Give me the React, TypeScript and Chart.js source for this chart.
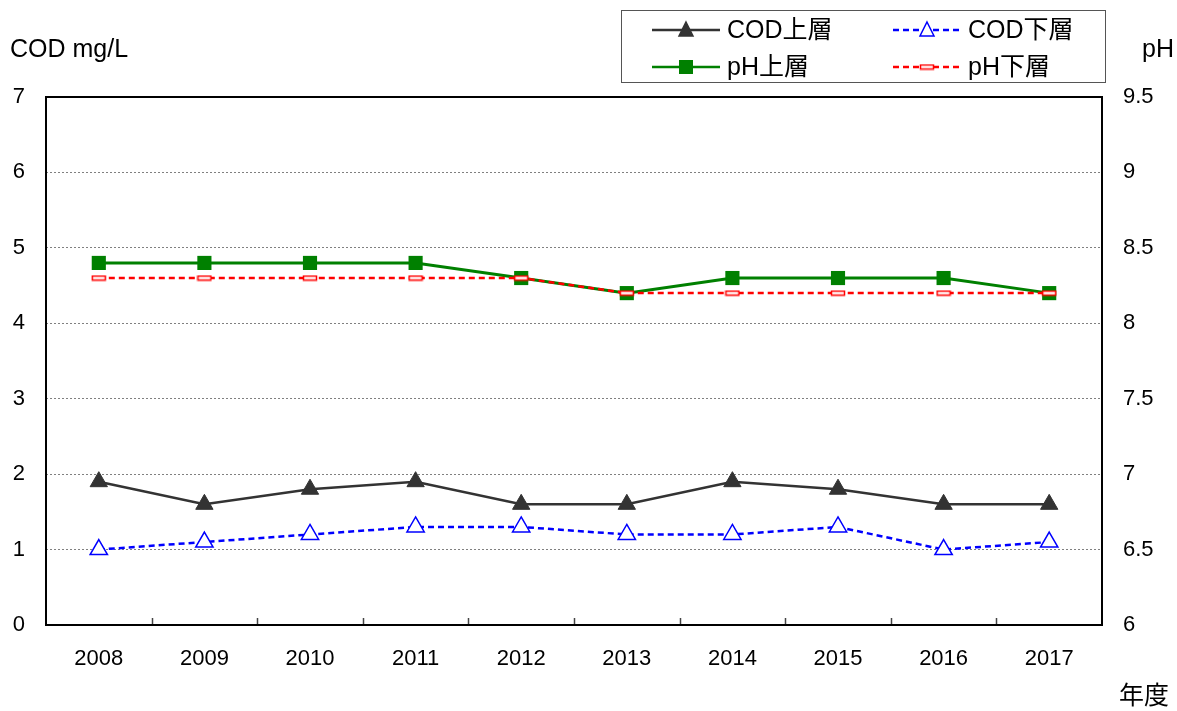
import React, { useEffect, useRef } from "react";
import { Chart, registerables } from "chart.js";

Chart.register(...registerables);

const years = ["2008", "2009", "2010", "2011", "2012", "2013", "2014", "2015", "2016", "2017"];
const codUpper = [1.9, 1.6, 1.8, 1.9, 1.6, 1.6, 1.9, 1.8, 1.6, 1.6];
const codLower = [1.0, 1.1, 1.2, 1.3, 1.3, 1.2, 1.2, 1.3, 1.0, 1.1];
const phUpper = [8.4, 8.4, 8.4, 8.4, 8.3, 8.2, 8.3, 8.3, 8.3, 8.2];
const phLower = [8.3, 8.3, 8.3, 8.3, 8.3, 8.2, 8.2, 8.2, 8.2, 8.2];
const seriesNames = ["COD上層", "COD下層", "pH上層", "pH下層"];

const FONT = "'Liberation Sans', Arial, 'Noto Sans CJK JP', sans-serif";

function makeFlatRect(): HTMLCanvasElement {
  const c = document.createElement("canvas");
  c.width = 16;
  c.height = 7;
  const g = c.getContext("2d")!;
  g.fillStyle = "#ffffff";
  g.fillRect(1, 1, 14, 5);
  g.strokeStyle = "#ff0000";
  g.lineWidth = 1.5;
  g.strokeRect(1.5, 1.5, 13, 4);
  return c;
}

export default function App() {
  const ref = useRef<HTMLCanvasElement>(null);
  useEffect(() => {
    const flat = makeFlatRect();
    const black = "#333333";
    const blue = "#0000ff";
    const green = "#008000";
    const red = "#ff0000";

    const decor = {
      id: "decor",
      afterDraw(chart: any) {
        const ctx = chart.ctx;
        const a = chart.chartArea;
        const xs = chart.scales.x;
        ctx.save();
        // inward tick marks on x axis
        ctx.strokeStyle = "#444";
        ctx.lineWidth = 1.5;
        for (let i = 1; i < years.length; i++) {
          const px = Math.round((xs.getPixelForValue(i - 1) + xs.getPixelForValue(i)) / 2) + 0.5;
          ctx.beginPath();
          ctx.moveTo(px, a.bottom);
          ctx.lineTo(px, a.bottom - 7);
          ctx.stroke();
        }
        // plot border
        ctx.strokeStyle = "#000";
        ctx.lineWidth = 2;
        ctx.strokeRect(a.left, a.top, a.right - a.left, a.bottom - a.top);

        // axis titles
        ctx.fillStyle = "#000";
        ctx.font = "25px " + FONT;
        ctx.textBaseline = "middle";
        ctx.textAlign = "left";
        ctx.fillText("COD mg/L", 10, 50);
        ctx.fillText("pH", 1142, 50);
        ctx.fillText("年度", 1119, 697);

        // legend
        ctx.fillStyle = "#fff";
        ctx.fillRect(621, 10, 485, 72);
        ctx.strokeStyle = "#555";
        ctx.lineWidth = 1;
        ctx.strokeRect(621.5, 10.5, 484, 72);

        const items = [
          { x: 652, y: 30, color: black, dash: [] as number[], marker: "triFill", label: seriesNames[0] },
          { x: 893, y: 30, color: blue, dash: [6, 4], marker: "triOpen", label: seriesNames[1] },
          { x: 652, y: 67, color: green, dash: [] as number[], marker: "square", label: seriesNames[2] },
          { x: 893, y: 67, color: red, dash: [6, 4], marker: "flat", label: seriesNames[3] },
        ];
        for (const it of items) {
          ctx.strokeStyle = it.color;
          ctx.lineWidth = 2.5;
          ctx.setLineDash(it.dash);
          ctx.beginPath();
          ctx.moveTo(it.x, it.y);
          ctx.lineTo(it.x + 68, it.y);
          ctx.stroke();
          ctx.setLineDash([]);
          const cx = it.x + 34;
          const cy = it.y;
          if (it.marker === "triFill" || it.marker === "triOpen") {
            ctx.beginPath();
            ctx.moveTo(cx, cy - 8);
            ctx.lineTo(cx + 7, cy + 6);
            ctx.lineTo(cx - 7, cy + 6);
            ctx.closePath();
            ctx.fillStyle = it.marker === "triFill" ? black : "#fff";
            ctx.fill();
            ctx.lineWidth = 1.5;
            ctx.strokeStyle = it.color;
            ctx.stroke();
          } else if (it.marker === "square") {
            ctx.fillStyle = green;
            ctx.fillRect(cx - 7, cy - 7, 14, 14);
          } else {
            ctx.drawImage(flat, cx - 8, cy - 3.5);
          }
          ctx.fillStyle = "#000";
          ctx.font = "25px " + FONT;
          ctx.textAlign = "left";
          ctx.textBaseline = "middle";
          ctx.fillText(it.label, it.x + 75, it.y + 1);
        }
        ctx.restore();
      },
    };

    const chart = new Chart(ref.current!, {
      type: "line",
      data: {
        labels: years,
        datasets: [
          {
            label: seriesNames[0],
            data: codUpper,
            yAxisID: "y",
            borderColor: black,
            backgroundColor: black,
            borderWidth: 2.5,
            pointStyle: "triangle",
            pointRadius: 10,
            pointBorderWidth: 1,
            pointBackgroundColor: black,
            pointBorderColor: black,
            order: 3,
          },
          {
            label: seriesNames[1],
            data: codLower,
            yAxisID: "y",
            borderColor: blue,
            backgroundColor: "#fff",
            borderWidth: 2.5,
            borderDash: [6, 4],
            pointStyle: "triangle",
            pointRadius: 10,
            pointBorderWidth: 1.5,
            pointBackgroundColor: "#fff",
            pointBorderColor: blue,
            order: 2,
          },
          {
            label: seriesNames[2],
            data: phUpper,
            yAxisID: "y1",
            borderColor: green,
            backgroundColor: green,
            borderWidth: 3,
            pointStyle: "rect",
            pointRadius: 10,
            pointBorderWidth: 0,
            pointBackgroundColor: green,
            pointBorderColor: green,
            order: 1,
          },
          {
            label: seriesNames[3],
            data: phLower,
            yAxisID: "y1",
            borderColor: red,
            backgroundColor: red,
            borderWidth: 2.5,
            borderDash: [6, 4],
            pointStyle: flat as any,
            pointRadius: 8,
            order: 0,
          },
        ],
      },
      options: {
        responsive: false,
        animation: false,
        devicePixelRatio: 1,
        layout: { padding: { top: 97, left: 0, right: 0, bottom: 0 } },
        plugins: { legend: { display: false }, tooltip: { enabled: false } },
        scales: {
          x: {
            offset: true,
            grid: { display: false },
            border: { display: false },
            ticks: { color: "#000", font: { size: 22, family: FONT }, padding: 13, maxRotation: 0 },
            afterFit: (s: any) => {
              s.height = 86;
            },
          },
          y: {
            position: "left",
            min: 0,
            max: 7,
            ticks: { stepSize: 1, color: "#000", font: { size: 22, family: FONT }, padding: 21 },
            grid: { color: "#808080", lineWidth: 1, drawTicks: false },
            border: { display: false, dash: [2, 2] },
            afterFit: (s: any) => {
              s.width = 46;
            },
          },
          y1: {
            position: "right",
            min: 6,
            max: 9.5,
            ticks: {
              stepSize: 0.5,
              color: "#000",
              font: { size: 22, family: FONT },
              padding: 21,
              callback: (v: any) => String(Number(v)),
            },
            grid: { drawOnChartArea: false, drawTicks: false },
            border: { display: false },
            afterFit: (s: any) => {
              s.width = 75;
            },
          },
        },
      },
      plugins: [decor],
    });
    return () => chart.destroy();
  }, []);

  return (
    <div style={{ position: "absolute", left: 0, top: 0, width: 1177, height: 711, background: "#fff" }}>
      <canvas ref={ref} width={1177} height={711} style={{ display: "block" }} />
    </div>
  );
}
